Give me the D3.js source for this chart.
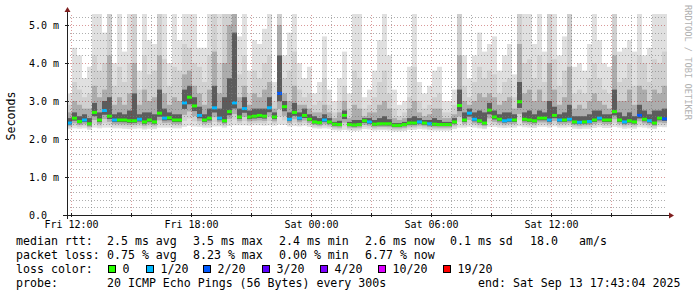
<!DOCTYPE html>
<html>
<head>
<meta charset="utf-8">
<script src="https://cdn.jsdelivr.net/npm/d3@7"></script>
<style>
  html, body { margin: 0; padding: 0; background: #fff; }
  svg { display: block; }
  text { font-family: "DejaVu Sans Mono", monospace; fill: #000; }
</style>
</head>
<body>
<div class="container"></div>
<script>
// 120 steps of 15 minutes, Fri 11:48 -> Sat 17:48
const startTime = new Date(2025, 8, 12, 11, 48)
const stepMinutes = 15

// median rtt (ms)
const median = [
  2.42, 2.55, 2.46, 2.50, 2.40, 2.70, 2.50, 2.75, 2.60, 2.50,
  2.50, 2.50, 2.48, 2.48, 2.52, 2.45, 2.50, 2.45, 2.68, 2.55,
  2.56, 2.50, 2.50, 2.95, 3.10, 2.87, 2.62, 2.50, 2.55, 2.82,
  2.55, 2.48, 2.72, 2.95, 2.58, 2.80, 2.58, 2.60, 2.62, 2.60,
  2.82, 2.58, 3.20, 2.85, 2.52, 2.70, 2.55, 2.62, 2.52, 2.45,
  2.43, 2.50, 2.45, 2.39, 2.38, 2.62, 2.38, 2.37, 2.38, 2.48,
  2.45, 2.39, 2.40, 2.40, 2.40, 2.36, 2.36, 2.38, 2.42, 2.42,
  2.45, 2.42, 2.40, 2.39, 2.38, 2.38, 2.38, 2.45, 2.88, 2.50,
  2.68, 2.52, 2.48, 2.42, 2.76, 2.58, 2.52, 2.48, 2.50, 2.50,
  2.98, 2.52, 2.50, 2.48, 2.55, 2.55, 2.50, 2.62, 2.50, 2.50,
  2.52, 2.45, 2.44, 2.45, 2.46, 2.50, 2.55, 2.50, 2.50, 2.72,
  2.50, 2.45, 2.48, 2.45, 2.62, 2.52, 2.48, 2.42, 2.55, 2.53
]

// lost pings out of 20
const loss = [
  1, 0, 0, 1, 0, 0, 0, 1, 0, 1,
  0, 0, 0, 0, 1, 0, 0, 0, 0, 1,
  0, 0, 0, 1, 0, 0, 1, 0, 0, 1,
  1, 0, 0, 1, 0, 1, 0, 0, 0, 0,
  1, 0, 2, 0, 1, 0, 1, 0, 0, 0,
  0, 1, 0, 0, 0, 0, 0, 0, 0, 0,
  1, 0, 0, 0, 0, 0, 0, 0, 0, 0,
  1, 0, 1, 0, 0, 0, 0, 0, 0, 0,
  1, 1, 0, 0, 0, 0, 0, 1, 1, 0,
  0, 0, 0, 0, 0, 0, 1, 0, 1, 0,
  1, 0, 1, 0, 1, 0, 1, 0, 0, 0,
  0, 1, 0, 0, 2, 0, 1, 0, 0, 2
]

// smoke: lowest ping (ms)
const smokeMin = [
  2.26, 2.28, 2.27, 2.28, 2.24, 2.30, 2.28, 2.30, 2.30, 2.28,
  2.28, 2.27, 2.26, 2.27, 2.28, 2.25, 2.27, 2.26, 2.30, 2.30,
  2.30, 2.28, 2.28, 2.32, 2.35, 2.33, 2.32, 2.30, 2.30, 2.33,
  2.33, 2.30, 2.34, 2.36, 2.36, 2.36, 2.35, 2.36, 2.36, 2.35,
  2.36, 2.35, 2.38, 2.37, 2.33, 2.34, 2.33, 2.35, 2.32, 2.28,
  2.27, 2.28, 2.27, 2.23, 2.22, 2.24, 2.22, 2.21, 2.22, 2.26,
  2.25, 2.22, 2.23, 2.23, 2.22, 2.20, 2.20, 2.21, 2.24, 2.24,
  2.26, 2.25, 2.23, 2.22, 2.22, 2.22, 2.22, 2.26, 2.30, 2.30,
  2.32, 2.30, 2.28, 2.26, 2.32, 2.32, 2.30, 2.29, 2.30, 2.30,
  2.33, 2.31, 2.30, 2.29, 2.32, 2.32, 2.30, 2.33, 2.30, 2.30,
  2.31, 2.27, 2.26, 2.27, 2.27, 2.29, 2.31, 2.29, 2.29, 2.32,
  2.30, 2.27, 2.28, 2.27, 2.31, 2.30, 2.28, 2.26, 2.32, 2.31
]

// smoke: highest ping (ms), above 5.26 is off the chart
const smokeMax = [
  3.2, 4.4, 4.2, 3.6, 3.9, 5.4, 5.4, 4.8, 5.4, 4.0,
  5.4, 4.3, 5.4, 4.9, 3.8, 5.4, 4.6, 4.5, 5.4, 5.4,
  4.0, 5.4, 4.6, 5.4, 5.4, 5.4, 4.4, 4.4, 5.4, 5.4,
  5.4, 5.4, 5.4, 5.4, 4.7, 5.4, 3.8, 4.6, 4.5, 4.9,
  5.4, 3.5, 5.4, 4.2, 4.8, 5.4, 4.0, 3.6, 3.9, 3.2,
  3.5, 4.7, 3.3, 3.0, 3.6, 4.3, 3.2, 5.4, 5.4, 3.1,
  3.3, 3.8, 4.6, 5.4, 4.2, 3.3, 2.9, 3.0, 3.9, 5.4,
  3.5, 3.2, 3.4, 3.8, 3.9, 3.0, 3.0, 3.3, 5.4, 4.2,
  3.6, 4.2, 4.8, 4.3, 4.5, 4.7, 3.8, 4.2, 4.5, 3.7,
  5.4, 5.4, 5.4, 4.5, 5.4, 4.3, 4.8, 5.4, 4.2, 4.7,
  5.4, 3.9, 4.0, 3.8, 4.5, 5.4, 4.6, 4.0, 3.9, 5.4,
  4.3, 4.4, 4.6, 4.3, 5.4, 4.2, 4.4, 5.4, 5.4, 5.4
]

// smoke: upper quantiles (ms)
const smokeHigh = [
  2.9, 3.5, 3.3, 3.1, 3.2, 4.2, 3.8, 4.0, 5.4, 3.4,
  3.9, 3.5, 4.0, 5.4, 3.3, 4.2, 3.7, 3.8, 5.4, 4.1,
  3.4, 3.9, 3.8, 4.5, 4.4, 4.0, 3.9, 3.5, 4.2, 5.4,
  4.0, 5.4, 5.4, 5.4, 3.7, 4.2, 3.2, 3.8, 3.6, 4.0,
  4.2, 3.0, 5.4, 3.6, 3.8, 4.3, 3.3, 3.1, 3.2, 2.9,
  3.0, 3.6, 2.9, 2.7, 3.0, 3.4, 2.8, 3.8, 3.6, 2.8,
  2.9, 3.1, 3.5, 3.8, 3.2, 2.8, 2.6, 2.7, 3.1, 3.9,
  3.0, 2.8, 2.9, 3.1, 3.2, 2.7, 2.7, 2.9, 5.4, 3.4,
  3.1, 3.5, 3.9, 3.6, 3.8, 3.7, 3.2, 3.5, 3.6, 3.1,
  5.4, 4.0, 4.1, 3.6, 4.2, 3.5, 5.4, 4.1, 3.4, 3.8,
  5.4, 3.2, 3.3, 3.2, 3.6, 4.0, 3.6, 3.3, 3.2, 5.4,
  3.5, 3.6, 4.0, 3.4, 4.2, 4.0, 3.5, 4.1, 4.0, 4.3
]

const smokeMid = [
  2.7, 3.0, 2.9, 2.8, 2.8, 3.4, 3.1, 3.3, 4.2, 2.9,
  3.1, 2.9, 3.2, 4.0, 2.9, 3.3, 3.0, 3.1, 4.2, 3.2,
  2.9, 3.1, 3.0, 3.7, 3.8, 3.4, 3.2, 2.9, 3.3, 4.3,
  3.2, 4.0, 5.0, 5.4, 3.1, 3.4, 2.9, 3.2, 3.1, 3.3,
  3.5, 2.8, 5.0, 3.2, 3.0, 3.4, 2.9, 2.9, 2.8, 2.7,
  2.7, 2.9, 2.7, 2.55, 2.7, 3.0, 2.55, 2.9, 2.8, 2.6,
  2.7, 2.7, 2.9, 3.0, 2.8, 2.55, 2.5, 2.55, 2.8, 3.0,
  2.7, 2.6, 2.65, 2.8, 2.8, 2.55, 2.55, 2.65, 4.2, 3.0,
  2.9, 3.0, 3.2, 3.1, 3.2, 3.1, 2.9, 3.0, 3.1, 2.8,
  4.5, 3.2, 3.3, 3.0, 3.3, 3.0, 4.0, 3.3, 2.9, 3.1,
  3.9, 2.8, 2.9, 2.8, 3.0, 3.2, 3.0, 2.9, 2.8, 4.2,
  3.0, 3.0, 3.3, 2.9, 3.4, 3.3, 3.0, 3.3, 3.2, 3.4
]

const smokeCore = [
  2.55, 2.7, 2.6, 2.65, 2.55, 2.95, 2.7, 3.0, 3.1, 2.65,
  2.7, 2.65, 2.75, 3.2, 2.65, 2.7, 2.7, 2.65, 3.3, 2.8,
  2.7, 2.65, 2.65, 3.3, 3.4, 3.1, 2.85, 2.65, 2.8, 3.4,
  2.8, 3.1, 3.6, 4.8, 2.8, 3.1, 2.75, 2.8, 2.8, 2.8,
  3.1, 2.7, 4.2, 3.0, 2.7, 2.95, 2.7, 2.8, 2.65, 2.6,
  2.55, 2.65, 2.55, 2.45, 2.48, 2.75, 2.45, 2.5, 2.5, 2.55,
  2.55, 2.5, 2.55, 2.6, 2.52, 2.42, 2.42, 2.45, 2.55, 2.6,
  2.55, 2.5, 2.5, 2.55, 2.5, 2.45, 2.45, 2.55, 3.3, 2.7,
  2.8, 2.7, 2.75, 2.7, 2.95, 2.75, 2.65, 2.7, 2.7, 2.65,
  3.5, 2.7, 2.75, 2.65, 2.75, 2.7, 3.0, 2.85, 2.65, 2.7,
  2.9, 2.6, 2.6, 2.6, 2.65, 2.75, 2.75, 2.65, 2.65, 3.3,
  2.7, 2.6, 2.7, 2.6, 2.9, 2.75, 2.65, 2.75, 2.75, 2.8
]

const yTicks = [0, 1, 2, 3, 4, 5]

const lossLevels = [0, 1, 2, 3, 4, 10, 19]
const lossLabels = ['0', '1/20', '2/20', '3/20', '4/20', '10/20', '19/20']
const lossColors = ['#26ff00', '#00b8ff', '#0059ff', '#5e00ff', '#7e00ff', '#dd00ff', '#ff0000']

const rttStats = ['2.5 ms avg', '3.5 ms max', '2.4 ms min', '2.6 ms now', '0.1 ms sd', '18.0', 'am/s']
const lossStats = ['0.75 % avg', '8.23 % max', '0.00 % min', '6.77 % now']
const probeText = '20 ICMP Echo Pings (56 Bytes) every 300s'
const endText = 'end: Sat Sep 13 17:43:04 2025'

const W = 697
const H = 297
const plot = { left: 67, right: 667, top: 15, bottom: 215 }

const svg = d3
  .select('.container')
  .append('svg')
  .attr('width', W)
  .attr('height', H)

svg.append('rect').attr('width', W).attr('height', H).attr('fill', '#fff')

const n = median.length
const stepTime = (i) => d3.timeMinute.offset(startTime, i * stepMinutes)
const endTime = stepTime(n)

const x = d3.scaleTime().domain([startTime, endTime]).range([plot.left, plot.right])
const y = d3.scaleLinear().domain([0, 200 / 38]).range([plot.bottom, plot.top])

svg
  .append('defs')
  .append('clipPath')
  .attr('id', 'plot-clip')
  .append('rect')
  .attr('x', plot.left)
  .attr('y', plot.top - 1)
  .attr('width', plot.right - plot.left)
  .attr('height', plot.bottom - plot.top + 1)

const graph = svg.append('g').attr('clip-path', 'url(#plot-clip)')

// smoke, lightest band first
const layers = [
  { hi: smokeMax, f: 0, color: '#e0e0e0' },
  { hi: smokeHigh, f: 0.25, color: '#d0d0d0' },
  { hi: smokeMid, f: 0.5, color: '#acacac' },
  { hi: smokeCore, f: 0.75, color: '#5c5c5c' }
]

layers.forEach((layer) => {
  graph
    .append('g')
    .selectAll('rect')
    .data(d3.range(n))
    .enter()
    .append('rect')
    .attr('x', (i) => x(stepTime(i)))
    .attr('width', (i) => x(stepTime(i + 1)) - x(stepTime(i)))
    .attr('y', (i) => y(layer.hi[i]))
    .attr('height', (i) => {
      const low = smokeMin[i] + (median[i] - smokeMin[i]) * layer.f
      return Math.max(0, y(low) - y(layer.hi[i]))
    })
    .attr('fill', layer.color)
})

// median, coloured by loss
const lossColor = d3.scaleOrdinal().domain(lossLevels).range(lossColors)

graph
  .append('g')
  .selectAll('rect')
  .data(d3.range(n))
  .enter()
  .append('rect')
  .attr('x', (i) => x(stepTime(i)))
  .attr('width', (i) => x(stepTime(i + 1)) - x(stepTime(i)))
  .attr('y', (i) => y(median[i]) - 1.5)
  .attr('height', 3)
  .attr('fill', (i) => lossColor(loss[i]))

// grid on top of the smoke
const grid = svg.append('g')
const minorY = d3.range(0, 5.3, 0.2).filter((v) => Math.abs(v - Math.round(v)) > 0.01)

grid
  .selectAll('line.hmin')
  .data(minorY)
  .enter()
  .append('line')
  .attr('x1', plot.left)
  .attr('x2', plot.right)
  .attr('y1', (d) => Math.round(y(d)) + 0.5)
  .attr('y2', (d) => Math.round(y(d)) + 0.5)
  .attr('stroke', 'rgba(120,120,120,0.6)')
  .attr('stroke-dasharray', '1,2')

grid
  .selectAll('line.hmaj')
  .data(yTicks.filter((d) => d > 0))
  .enter()
  .append('line')
  .attr('x1', plot.left)
  .attr('x2', plot.right)
  .attr('y1', (d) => Math.round(y(d)) + 0.5)
  .attr('y2', (d) => Math.round(y(d)) + 0.5)
  .attr('stroke', 'rgba(170,30,30,0.45)')
  .attr('stroke-dasharray', '1,2')

const hours = x.ticks(d3.timeHour.every(1))
const majorHours = x.ticks(d3.timeHour.every(3))
const isMajor = (t) => majorHours.some((m) => +m === +t)

grid
  .selectAll('line.v')
  .data(hours)
  .enter()
  .append('line')
  .attr('x1', (d) => Math.round(x(d)) + 0.5)
  .attr('x2', (d) => Math.round(x(d)) + 0.5)
  .attr('y1', plot.top)
  .attr('y2', plot.bottom)
  .attr('stroke', (d) => (isMajor(d) ? 'rgba(170,30,30,0.45)' : 'rgba(120,120,120,0.6)'))
  .attr('stroke-dasharray', '1,2')

// axes
const axisColor = '#202020'
const arrowColor = '#7f1f1f'

svg
  .append('line')
  .attr('x1', plot.left - 4)
  .attr('x2', plot.right + 3)
  .attr('y1', plot.bottom + 0.5)
  .attr('y2', plot.bottom + 0.5)
  .attr('stroke', axisColor)

svg
  .append('line')
  .attr('x1', plot.left + 0.5)
  .attr('x2', plot.left + 0.5)
  .attr('y1', plot.bottom + 4)
  .attr('y2', plot.top - 4)
  .attr('stroke', axisColor)

svg
  .append('path')
  .attr('d', `M${plot.right + 7},${plot.bottom + 0.5} L${plot.right + 2},${plot.bottom - 2.5} L${plot.right + 2},${plot.bottom + 3.5} Z`)
  .attr('fill', arrowColor)

svg
  .append('path')
  .attr('d', `M${plot.left + 0.5},${plot.top - 8} L${plot.left - 2.5},${plot.top - 3} L${plot.left + 3.5},${plot.top - 3} Z`)
  .attr('fill', arrowColor)

// small ticks at major lines
svg
  .selectAll('line.ytick')
  .data(yTicks)
  .enter()
  .append('line')
  .attr('x1', plot.left - 2)
  .attr('x2', plot.left + 2)
  .attr('y1', (d) => Math.round(y(d)) + 0.5)
  .attr('y2', (d) => Math.round(y(d)) + 0.5)
  .attr('stroke', axisColor)

svg
  .selectAll('line.xtick')
  .data(majorHours)
  .enter()
  .append('line')
  .attr('x1', (d) => Math.round(x(d)) + 0.5)
  .attr('x2', (d) => Math.round(x(d)) + 0.5)
  .attr('y1', plot.bottom - 2)
  .attr('y2', plot.bottom + 2)
  .attr('stroke', axisColor)

// axis labels via d3 axes
const xAxis = d3
  .axisBottom(x)
  .ticks(d3.timeHour.every(6))
  .tickSize(0)
  .tickPadding(0)
  .tickFormat(d3.timeFormat('%a %H:%M'))

const xg = svg
  .append('g')
  .attr('transform', `translate(0,${plot.bottom + 6})`)
  .call(xAxis)
xg.select('.domain').remove()
xg.selectAll('text')
  .attr('font-family', '"DejaVu Sans Mono", monospace')
  .attr('font-size', '10px')
  .attr('fill', '#000')

const yAxis = d3
  .axisLeft(y)
  .tickValues(yTicks)
  .tickSize(0)
  .tickFormat((d) => (d === 0 ? '0.0' : d.toFixed(1) + ' m'))

const yg = svg
  .append('g')
  .attr('transform', `translate(${plot.left},0)`)
  .call(yAxis)
yg.select('.domain').remove()
yg.selectAll('text')
  .attr('text-anchor', 'start')
  .attr('x', 29 - plot.left)
  .attr('dy', '0.35em')
  .attr('font-family', '"DejaVu Sans Mono", monospace')
  .attr('font-size', '10px')
  .attr('fill', '#000')

svg
  .append('text')
  .attr('transform', `translate(15,${(plot.top + plot.bottom) / 2 + 1}) rotate(-90)`)
  .attr('text-anchor', 'middle')
  .attr('font-size', '11.6px')
  .text('Seconds')

svg
  .append('text')
  .attr('transform', 'translate(685,5) rotate(90)')
  .attr('font-size', '8.7px')
  .style('fill', '#b0b0b0')
  .text('RRDTOOL / TOBI OETIKER')

// legend
const legend = svg.append('g').attr('font-size', '11.6px')
const rowY = [245, 259, 273, 287]

legend.append('text').attr('x', 16).attr('y', rowY[0]).text('median rtt:')
const rttX = [107, 193, 279, 365, 450, 530, 579]
rttStats.forEach((s, i) => {
  legend.append('text').attr('x', rttX[i]).attr('y', rowY[0]).text(s)
})

legend.append('text').attr('x', 16).attr('y', rowY[1]).text('packet loss:')
const lossX = [107, 193, 279, 365]
lossStats.forEach((s, i) => {
  legend.append('text').attr('x', lossX[i]).attr('y', rowY[1]).text(s)
})

legend.append('text').attr('x', 16).attr('y', rowY[2]).text('loss color:')
const boxX = [108, 146, 203, 262, 320, 378, 443]
lossLevels.forEach((lv, i) => {
  legend
    .append('rect')
    .attr('x', boxX[i] + 0.5)
    .attr('y', rowY[2] - 7.5)
    .attr('width', 7)
    .attr('height', 7)
    .attr('fill', lossColor(lv))
    .attr('stroke', '#000')
  legend
    .append('text')
    .attr('x', boxX[i] + 14.5)
    .attr('y', rowY[2])
    .text(lossLabels[i])
})

legend.append('text').attr('x', 16).attr('y', rowY[3]).text('probe:')
legend.append('text').attr('x', 107).attr('y', rowY[3]).text(probeText)
legend.append('text').attr('x', 478).attr('y', rowY[3]).text(endText)
</script>
</body>
</html>
